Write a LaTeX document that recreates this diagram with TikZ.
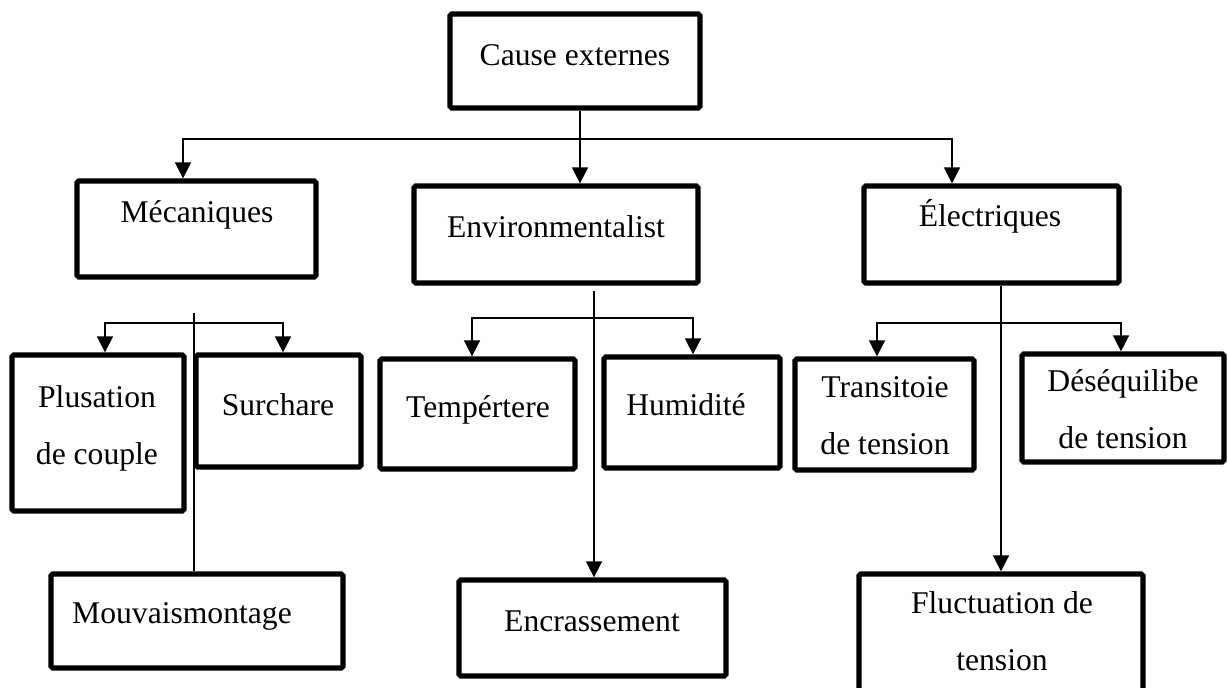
\documentclass[tikz,border=0pt]{standalone}
\usepackage{fontspec}
\setmainfont{Liberation Serif}
\usepackage{tikz}
\usetikzlibrary{calc, fit, arrows.meta}

\begin{document}
\begin{tikzpicture}[x=0.02cm, y=-0.02cm,
                box/.style={draw, line width=3pt, inner sep=0pt, rounded corners=1pt},
                txt/.style={anchor=base, inner sep=0pt, align=center, font=\fontsize{18}{32}\selectfont},
                conn/.style={line width=0.9pt},
                >={Triangle[length=0.32cm, width=0.32cm]}]
                \useasboundingbox (0,0) rectangle (1228,687);
                \node[box, fit={(450,14) (700,108)}] (cause) {};
                \node[box, fit={(77,181) (316,277)}] (mec) {};
                \node[box, fit={(414,186) (698,283)}] (env) {};
                \node[box, fit={(864,186) (1119,283)}] (elec) {};
                \node[box, fit={(12,355) (184,511)}] (plus) {};
                \node[box, fit={(196,355) (361,467)}] (surch) {};
                \node[box, fit={(380,359) (575,469)}] (temp) {};
                \node[box, fit={(604,357) (780,468)}] (humid) {};
                \node[box, fit={(795,359) (974,470)}] (trans) {};
                \node[box, fit={(1022,354) (1224,462)}] (deseq) {};
                \node[box, fit={(51,574) (343,668)}] (mouv) {};
                \node[box, fit={(459,580) (726,676)}] (encr) {};
                \node[box, fit={(859,574) (1143,700)}] (fluct) {};
                \node[txt] (cause-t) at (575,65) {Cause externes};
                \node[txt] (mec-t) at (197,222) {Mécaniques};
                \node[txt] (env-t) at (556,237) {Environmentalist};
                \node[txt] (elec-t) at (990,226) {Électriques};
                \node[txt] (plus-t) at (97,464) {Plusation\\de couple};
                \node[txt] (surch-t) at (278,415) {Surchare};
                \node[txt] (temp-t) at (478,417) {Tempértere};
                \node[txt] (humid-t) at (686,415) {Humidité};
                \node[txt] (trans-t) at (885,454) {Transitoie\\de tension};
                \node[txt] (deseq-t) at (1123,448) {Déséquilibe\\de tension};
                \node[txt] (mouv-t) at (182,623) {Mouvaismontage};
                \node[txt] (encr-t) at (592,631) {Encrassement};
                \node[txt] (fluct-t) at (1002,670) {Fluctuation de\\tension};
                \coordinate (t0) at (580,139);
                \coordinate (t1) at (183,139);
                \coordinate (t2) at (952,139);
                \draw[conn, ->] (cause.south -| t0) -- (env.north -| t0);
                \draw[conn, <->] (mec.north -| t1) -- (t1) -- (t2) -- (elec.north -| t2);
                \coordinate (m0) at (194,313);
                \coordinate (m1) at (105,323);
                \coordinate (m2) at (283,323);
                \draw[conn] (m0) -- (m0 |- mouv.north);
                \draw[conn, <->] (plus.north -| m1) -- (m1) -- (m2) -- (surch.north -| m2);
                \coordinate (e0) at (594,291);
                \coordinate (e1) at (472,318);
                \coordinate (e2) at (693,318);
                \draw[conn, ->] (e0) -- (e0 |- encr.north);
                \draw[conn, <->] (temp.north -| e1) -- (e1) -- (e2) -- (humid.north -| e2);
                \coordinate (l1) at (877,323);
                \coordinate (l2) at (1121,323);
                \draw[conn, ->] (elec.south -| fluct.north) -- (fluct.north);
                \draw[conn, <->] (trans.north -| l1) -- (l1) -- (l2) -- (deseq.north -| l2);
            \end{tikzpicture}
\end{document}
